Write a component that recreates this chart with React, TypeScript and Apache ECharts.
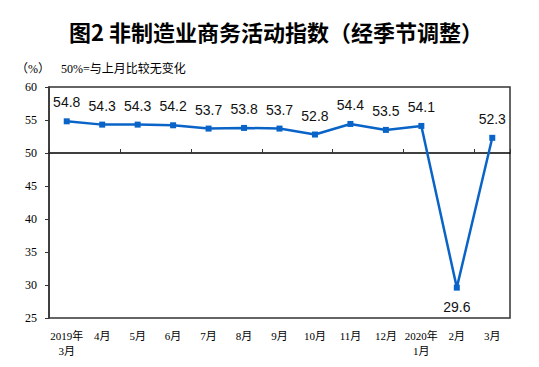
import React, { useEffect, useRef } from "react";
import * as echarts from "echarts";

const categories = ["2019年\n3月", "4月", "5月", "6月", "7月", "8月", "9月", "10月", "11月", "12月", "2020年\n1月", "2月", "3月"];
const values = [54.8, 54.3, 54.3, 54.2, 53.7, 53.8, 53.7, 52.8, 54.4, 53.5, 54.1, 29.6, 52.3];
const title = "图2 非制造业商务活动指数（经季节调整）";
const unitText = "（%）";
const noteText = "50%=与上月比较无变化";

export default function App() {
  const ref = useRef<HTMLDivElement>(null);
  useEffect(() => {
    if (!ref.current) return;
    const chart = echarts.init(ref.current, null, { renderer: "svg" });
    const serif = "'Liberation Serif', 'Noto Sans CJK SC', serif";
    chart.setOption({
      animation: false,
      backgroundColor: "#fff",
      title: {
        text: title,
        left: 64,
        top: 15,
        textStyle: { fontSize: 22, fontWeight: "bold", color: "#000", fontFamily: "'Noto Sans CJK SC', sans-serif" },
      },
      graphic: [
        { type: "text", left: 16, top: 63, style: { text: unitText, fontSize: 12, fill: "#000", fontFamily: serif } },
        { type: "text", left: 61, top: 63, style: { text: noteText, fontSize: 12, fill: "#000", fontFamily: serif } },
      ],
      grid: [
        { left: 49, top: 87, width: 461, height: 231, show: true, borderColor: "#333", borderWidth: 1.5, containLabel: false },
        { left: 49, top: 87, width: 461, height: 66, show: false, containLabel: false },
      ],
      xAxis: [
        {
          type: "category",
          gridIndex: 0,
          data: categories,
          boundaryGap: true,
          axisLine: { show: false },
          axisTick: { show: false },
          axisLabel: { interval: 0, fontSize: 11, color: "#000", fontFamily: serif, margin: 10, lineHeight: 15 },
        },
        {
          type: "category",
          gridIndex: 1,
          data: categories,
          boundaryGap: true,
          position: "bottom",
          axisLine: { show: true, lineStyle: { color: "#000", width: 1.5 } },
          axisTick: { show: true, inside: true, length: 4, lineStyle: { color: "#333" } },
          axisLabel: { show: false },
        },
      ],
      yAxis: [
        {
          type: "value",
          gridIndex: 0,
          min: 25,
          max: 60,
          interval: 5,
          splitLine: { show: false },
          axisLine: { show: true, lineStyle: { color: "#333", width: 1.5 } },
          axisTick: { show: true, length: 4, lineStyle: { color: "#333" } },
          axisLabel: { fontSize: 12, color: "#000", fontFamily: serif, margin: 12 },
        },
        {
          type: "value",
          gridIndex: 1,
          min: 50,
          max: 60,
          show: false,
        },
      ],
      series: [
        {
          type: "line",
          xAxisIndex: 0,
          yAxisIndex: 0,
          data: values.map((v) =>
            v < 50 ? { value: v, label: { position: "bottom", distance: 9 } } : v
          ),
          symbol: "rect",
          symbolSize: 6,
          itemStyle: { color: "#0a64c8" },
          lineStyle: { color: "#0a64c8", width: 2.5 },
          label: {
            show: true,
            position: "top",
            distance: 9,
            fontSize: 14,
            color: "#111",
            fontFamily: "'Liberation Sans', Arial, sans-serif",
            formatter: (p: any) => Number(p.value).toFixed(1),
          },
          z: 5,
        },
      ],
    });
    return () => chart.dispose();
  }, []);
  return <div ref={ref} style={{ width: 539, height: 367, margin: -8 }} />;
}
